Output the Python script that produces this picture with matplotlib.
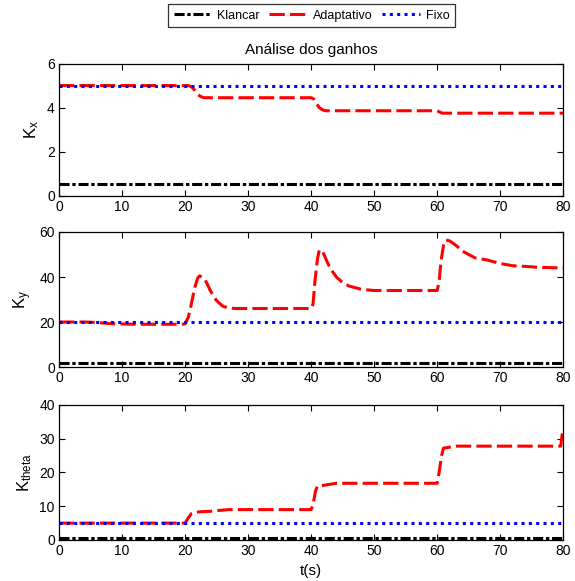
import matplotlib
matplotlib.use("Agg")
import matplotlib.pyplot as plt
from matplotlib.lines import Line2D

plt.rcParams['font.family'] = ['Liberation Sans', 'DejaVu Sans']
plt.rcParams['mathtext.fontset'] = 'custom'
plt.rcParams['mathtext.rm'] = 'Liberation Sans'
plt.rcParams['mathtext.default'] = 'regular'

# ---------------- data ----------------
t_range = [0, 80]
series_names = ["Klancar", "Adaptativo", "Fixo"]

# K_x
kx_klancar = 0.55
kx_fixo = 5.0
kx_t = [0, 20, 20.5, 21, 21.5, 22, 22.5, 23, 40, 40.4, 40.8, 41.3, 41.8, 42.3, 60, 60.4, 60.8, 80]
kx_adapt = [5, 5, 5.0, 4.95, 4.8, 4.6, 4.5, 4.45, 4.45, 4.4, 4.2, 4.0, 3.9, 3.86, 3.86, 3.8, 3.75, 3.75]

# K_y
ky_klancar = 1.7
ky_fixo = 20.0
ky_t = [0, 4, 6, 8, 12, 18, 19.5, 20, 20.5, 21, 21.5, 22, 22.3, 23, 23.5, 24, 25, 26, 27, 28,
        40, 40.3, 40.6, 41, 41.3, 41.8, 42.5, 43, 44, 45, 46, 48, 50,
        60, 60.3, 60.6, 61, 61.4, 62, 63, 64, 65, 66, 68, 70, 72, 74, 76, 80]
ky_adapt = [20, 20, 19.8, 19.3, 19, 19, 19, 19.2, 22, 28, 35, 39.5, 40.5, 39.5, 37, 34, 29.5, 27, 26.2, 26,
            26, 28, 38, 48, 52, 51.5, 47, 44, 40, 37.5, 36, 34.5, 34,
            34, 38, 47, 54, 56.5, 56, 54, 51.5, 50, 48.5, 47.5, 46, 45, 44.7, 44.3, 44]

# K_theta
kt_klancar = 0.5
kt_fixo = 5.0
kt_t = [0, 20, 20.5, 21, 21.5, 22, 24, 25, 27, 40, 40.3, 40.7, 41, 42, 44,
        60, 60.3, 60.7, 61, 63, 79.6, 79.8, 80]
kt_adapt = [5, 5, 6.5, 7.8, 8.2, 8.3, 8.5, 8.7, 9, 9, 10.5, 14.5, 16, 16.2, 16.8,
            16.8, 20, 25, 27.2, 27.8, 27.8, 31, 32.5]

panels = [
    dict(label=r"K$_x$", ylim=(0, 6), yticks=[0, 2, 4, 6], kl=kx_klancar, fx=kx_fixo, t=kx_t, ad=kx_adapt),
    dict(label=r"K$_y$", ylim=(0, 60), yticks=[0, 20, 40, 60], kl=ky_klancar, fx=ky_fixo, t=ky_t, ad=ky_adapt),
    dict(label=r"K$_{theta}$", ylim=(0, 40), yticks=[0, 10, 20, 30, 40], kl=kt_klancar, fx=kt_fixo, t=kt_t, ad=kt_adapt),
]
xticks = [0, 10, 20, 30, 40, 50, 60, 70, 80]

# ---------------- styles ----------------
lw = 2.2
st_klancar = dict(color='black', lw=lw, linestyle=(0, (3.3, 0.9, 1.1, 0.9)))
st_adapt = dict(color='#ff0000', lw=lw, linestyle=(0, (5, 1.7)))
st_fixo = dict(color='#0000ff', lw=lw, linestyle=(0, (1, 1.4)))

fig = plt.figure(figsize=(5.75, 5.81), dpi=100)
positions = [
    [0.1026, 0.6627, 0.877, 0.2280],
    [0.1026, 0.3683, 0.877, 0.2324],
    [0.1026, 0.0706, 0.877, 0.2324],
]

axes = []
for p, pos in zip(panels, positions):
    ax = fig.add_axes(pos)
    ax.plot(t_range, [p['kl'], p['kl']], **st_klancar)
    ax.plot(p['t'], p['ad'], **st_adapt)
    ax.plot(t_range, [p['fx'], p['fx']], **st_fixo)
    ax.set_xlim(*t_range)
    ax.set_ylim(*p['ylim'])
    ax.set_xticks(xticks)
    ax.set_yticks(p['yticks'])
    ax.tick_params(direction='in', top=True, right=True, length=4, width=0.8, labelsize=10, pad=3)
    for s in ax.spines.values():
        s.set_linewidth(0.9)
    ax.set_ylabel(p['label'], fontsize=12, labelpad=4)
    axes.append(ax)

axes[0].set_title("Análise dos ganhos", fontsize=11, pad=7)
axes[2].set_xlabel("t(s)", fontsize=11, labelpad=4)

handles = [Line2D([], [], **st_klancar), Line2D([], [], **st_adapt), Line2D([], [], **st_fixo)]
leg = fig.legend(handles, series_names, loc='center', bbox_to_anchor=(0.5417, 0.973), ncol=3,
                 fontsize=9, frameon=True, fancybox=False, edgecolor='black',
                 handlelength=3.0, handletextpad=0.5, columnspacing=0.75, borderpad=0.42,
                 borderaxespad=0.0)
leg.get_frame().set_linewidth(0.9)

fig.savefig("out.png", dpi=100)
